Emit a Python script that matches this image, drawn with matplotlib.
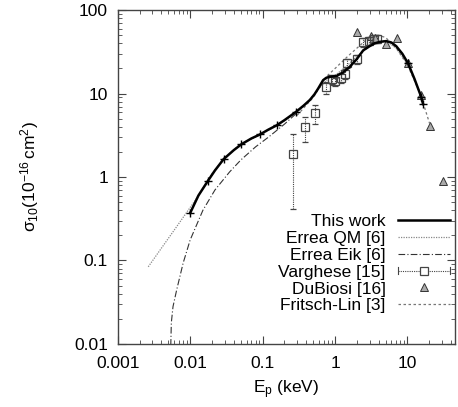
import matplotlib
matplotlib.use("Agg")
import matplotlib.pyplot as plt
from matplotlib.lines import Line2D
from matplotlib.legend_handler import HandlerBase
from matplotlib.ticker import LogLocator, NullFormatter, FixedFormatter, FixedLocator

plt.rcParams["font.family"] = ["Liberation Sans", "DejaVu Sans"]
plt.rcParams["mathtext.fontset"] = "custom"
plt.rcParams["mathtext.rm"] = "Liberation Sans"
plt.rcParams["mathtext.it"] = "Liberation Sans:italic"

# This work (solid, with + markers)
work_x = [0.01, 0.013, 0.0176, 0.022, 0.029, 0.04, 0.051, 0.07, 0.092, 0.12,
          0.156, 0.2, 0.29, 0.37, 0.45, 0.52, 0.585, 0.685, 0.76, 0.85,
          1.05, 1.3, 1.6, 2.0, 2.45, 3.0, 3.5, 4.15, 5.1, 6.0,
          7.0, 8.5, 10.2, 12.5, 15.5, 16.4]
work_y = [0.37, 0.6, 0.9, 1.2, 1.64, 2.1, 2.47, 2.9, 3.24, 3.7,
          4.16, 4.8, 6.05, 7.2, 8.4, 9.8, 11.5, 14.5, 15.5, 15.9,
          16.3, 18, 21, 26, 33, 37, 40, 41.7, 42.6, 41,
          37, 30, 23, 15, 9.1, 7.5]
work_marks = [0, 2, 4, 6, 8, 10, 12, 32, 34, 35]

# Errea QM [6]
qm_x = [0.00264, 0.004, 0.006, 0.0085, 0.0123, 0.02, 0.03, 0.05, 0.1, 0.2,
        0.4, 0.6, 0.8, 1.0, 1.5, 2.0, 3.0, 4.0, 5.0, 7.0, 10, 15]
qm_y = [0.084, 0.14, 0.23, 0.354, 0.556, 1.1, 1.7, 2.5, 3.3, 4.7,
        7.5, 11.5, 15, 16.5, 22, 28, 37, 42, 43, 35, 23, 10]

# Errea Eik [6]
eik_x = [0.0054, 0.0055, 0.0058, 0.0065, 0.008, 0.01, 0.015, 0.022, 0.035,
         0.05, 0.08, 0.12, 0.2, 0.3]
eik_y = [0.0095, 0.018, 0.028, 0.044, 0.093, 0.176, 0.4, 0.70, 1.15,
         1.6, 2.3, 3.0, 4.3, 5.9]

# Varghese [15]
var_x = [0.264, 0.39, 0.53, 0.74, 0.91, 1.0, 1.2, 1.37, 1.44, 1.98,
         2.44, 2.95, 3.43, 3.8]
var_y = [1.87, 4.0, 5.9, 11.9, 14.9, 14.0, 15.5, 17.4, 23, 25.8,
         41, 43, 45, 45]
var_lo = [0.41, 2.6, 4.3, 10.0, 13.0, 12.5, 13.5, 15.0, 20.0, 22.5,
          36, 38, 40, 40]
var_hi = [3.3, 5.3, 7.3, 13.8, 16.8, 15.5, 17.5, 19.8, 26, 29,
          46, 48, 50, 50]

# DuBiosi [16]
dub_x = [2.04, 3.09, 3.6, 5.0, 7.2, 10.2, 15.5, 20.7, 31]
dub_y = [55, 49, 47, 39, 46, 23.5, 9.5, 4.1, 0.9]

# Fritsch-Lin [3]
fl_x = [0.3, 0.5, 0.76, 1.0, 1.5, 2.0, 3.0, 4.0, 5.0, 7.0, 10, 15, 20.7]
fl_y = [5.5, 9, 16, 20, 28, 35, 48, 50, 47, 35, 22, 10, 4.1]

DOT = (0, (1, 1))
ERR_COLOR = "#444444"


class HorizErrHandler(HandlerBase):
    # gnuplot-like key: dotted horizontal bar with end caps and a square
    def create_artists(self, legend, orig, xdescent, ydescent, width, height,
                       fontsize, trans):
        y = height / 2 - ydescent
        x0, x1 = -xdescent, width - xdescent
        cap = height * 0.3
        line = Line2D([x0, x1], [y, y], color=ERR_COLOR, lw=0.8, linestyle=DOT)
        c0 = Line2D([x0, x0], [y - cap, y + cap], color=ERR_COLOR, lw=0.8)
        c1 = Line2D([x1, x1], [y - cap, y + cap], color=ERR_COLOR, lw=0.8)
        mk = Line2D([(x0 + x1) / 2], [y], marker="s", mfc="white",
                    mec=ERR_COLOR, ms=6, mew=0.9, linestyle="none")
        arts = [line, c0, c1, mk]
        for a in arts:
            a.set_transform(trans)
        return arts


fig = plt.figure(figsize=(4.58, 4.07), dpi=100)
ax = fig.add_axes([0.257, 0.155, 0.736, 0.82])

ax.plot(work_x, work_y, "-", color="black", lw=1.8, marker="+",
        ms=6, mew=1.0, markevery=work_marks, zorder=5)
h_work = Line2D([], [], color="black", lw=1.8)
h_qm, = ax.plot(qm_x, qm_y, linestyle=DOT, color="#888888", lw=0.9)
h_eik, = ax.plot(eik_x, eik_y, linestyle=(0, (6, 2, 1, 2)), color="#333333",
                 lw=0.8)

yerr = [[y - lo for y, lo in zip(var_y, var_lo)],
        [hi - y for y, hi in zip(var_y, var_hi)]]
eb = ax.errorbar(var_x, var_y, yerr=yerr, fmt="s", mfc="none", mec=ERR_COLOR,
                 ms=6, mew=0.9, ecolor=ERR_COLOR, elinewidth=0.8, capsize=2)
eb[2][0].set_linestyle(DOT)

h_dub, = ax.plot(dub_x, dub_y, "^", color="#aaaaaa", mec="#333333", ms=5.5,
                 mew=0.7, linestyle="none")
h_fl, = ax.plot(fl_x, fl_y, linestyle=(0, (2, 2)), color="#777777", lw=0.9)

ax.set_xscale("log")
ax.set_yscale("log")
ax.set_xlim(0.001, 45)
ax.set_ylim(0.01, 100)

ax.xaxis.set_major_locator(FixedLocator([0.001, 0.01, 0.1, 1, 10]))
ax.xaxis.set_major_formatter(FixedFormatter(["0.001", "0.01", "0.1", "1", "10"]))
ax.yaxis.set_major_locator(FixedLocator([0.01, 0.1, 1, 10, 100]))
ax.yaxis.set_major_formatter(FixedFormatter(["0.01", "0.1", "1", "10", "100"]))
for a in (ax.xaxis, ax.yaxis):
    a.set_minor_locator(LogLocator(base=10, subs=range(2, 10)))
    a.set_minor_formatter(NullFormatter())

ax.tick_params(which="both", direction="in", top=True, right=True,
               labelsize=12.5, color="#444444")
ax.tick_params(which="major", length=6, width=0.8)
ax.tick_params(which="minor", length=3, width=0.6)
ax.tick_params(axis="x", which="major", pad=9)
ax.tick_params(axis="y", which="major", pad=7)
for s in ax.spines.values():
    s.set_color("#444444")
    s.set_linewidth(1.0)

ax.set_xlabel(r"E$_\mathrm{p}$ (keV)", fontsize=12.5, labelpad=5)
ax.set_ylabel(r"$\mathrm{\sigma_{10}(10^{-16}\,cm^{2})}$", fontsize=12.5,
              labelpad=24)

handles = [h_work, h_qm, h_eik, eb, h_dub, h_fl]
labels = ["This work", "Errea QM [6]", "Errea Eik [6]", "Varghese [15]",
          "DuBiosi [16]", "Fritsch-Lin [3]"]
ax.legend(handles, labels, loc="lower right", bbox_to_anchor=(1.022, 0.055),
          frameon=False, markerfirst=False, fontsize=12.5, handlelength=3.0,
          handletextpad=0.7, labelspacing=0.1, borderpad=0.2,
          handler_map={type(eb): HorizErrHandler()})

fig.savefig("out.png", dpi=100)
